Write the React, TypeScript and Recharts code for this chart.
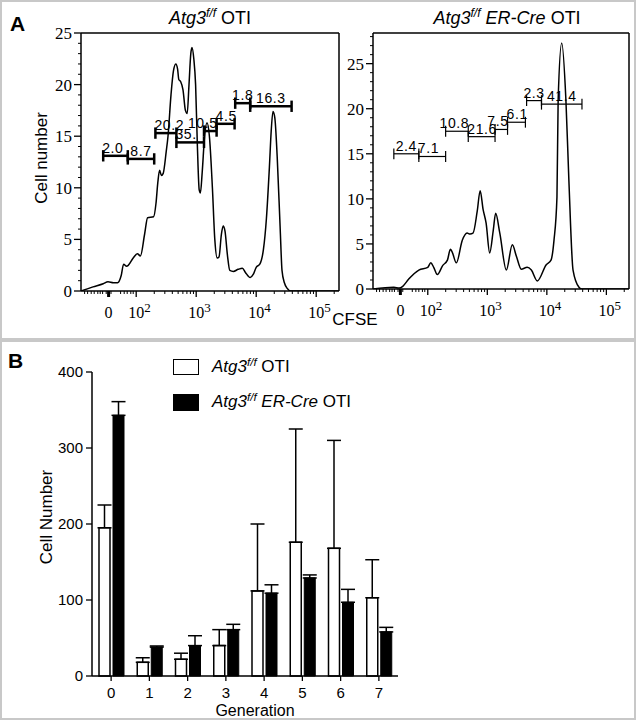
import React from "react";
import { LineChart, Line, XAxis, YAxis, ReferenceArea, ReferenceLine, BarChart, Bar, ErrorBar } from "recharts";

// Panel A: CFSE histograms. x is in display decades (2 = 10^2 ... 5 = 10^5), "0" sits near 1.54
const wtCfse = [1.08, 1.28, 1.45, 1.53, 1.62, 1.69, 1.75, 1.79, 1.84, 1.87, 1.95, 2.02, 2.07, 2.14, 2.19, 2.29, 2.33, 2.36, 2.39, 2.42, 2.45, 2.5, 2.53, 2.58, 2.62, 2.66, 2.69, 2.71, 2.74, 2.78, 2.82, 2.85, 2.88, 2.91, 2.93, 2.96, 2.99, 3.02, 3.05, 3.07, 3.1, 3.14, 3.18, 3.22, 3.27, 3.31, 3.35, 3.38, 3.42, 3.45, 3.48, 3.52, 3.56, 3.62, 3.7, 3.77, 3.82, 3.9, 3.95, 4.0, 4.06, 4.12, 4.17, 4.22, 4.25, 4.28, 4.31, 4.35, 4.4, 4.43, 4.47, 4.51, 4.58, 5.38];
const wtCount = [0, 0.4, 0.7, 0.9, 0.8, 0.8, 1.5, 2.6, 2.4, 2.5, 3.2, 3.6, 3.4, 5.5, 7.1, 7.2, 8.5, 10.5, 11.7, 11.2, 11.4, 13.5, 15, 19, 21.3, 22, 21.5, 20.5, 20.3, 19.5, 17.5, 17.2, 20, 23, 23.6, 22.5, 20, 14, 9.8, 9.5, 11.5, 15, 16.3, 15, 10, 5, 3.2, 3.3, 5.5, 6.3, 5.8, 3.5, 2.0, 1.9, 2.1, 2.2, 1.8, 1.3, 1.6, 2.3, 2.6, 4, 7, 12, 15.5, 17.4, 16.8, 13, 6, 2, 0.8, 0.3, 0, 0];

const koCfse = [1.08, 1.43, 1.52, 1.58, 1.68, 1.85, 2.0, 2.05, 2.1, 2.16, 2.25, 2.33, 2.38, 2.41, 2.48, 2.58, 2.66, 2.71, 2.76, 2.83, 2.88, 2.93, 2.98, 3.04, 3.1, 3.14, 3.21, 3.32, 3.42, 3.49, 3.57, 3.67, 3.74, 3.84, 3.99, 4.07, 4.12, 4.17, 4.19, 4.25, 4.32, 4.37, 4.44, 4.54, 4.59, 5.38];
const koCount = [0, 0.2, 0.1, 0.3, 1.1, 2.1, 2.4, 2.9, 2.4, 1.6, 2.6, 3.2, 4.4, 4.1, 2.9, 5.4, 6.2, 6.1, 6.2, 8.6, 10.9, 8.8, 7.3, 4.0, 6.5, 8.4, 6.2, 2.1, 4.9, 3.6, 2.2, 2.4, 2.1, 0.9, 2.7, 3.2, 5.4, 10.2, 21, 27.3, 21, 12.1, 2.1, 0.2, 0, 0];

// division gates (start, end, height in cell number, percent label)
const wtGateFrom = [1.45, 1.86, 2.32, 2.67, 3.13, 3.34, 3.65, 3.9];
const wtGateTo = [1.86, 2.3, 2.67, 3.13, 3.34, 3.64, 3.9, 4.59];
const wtGateLevel = [13.1, 12.8, 15.3, 14.4, 15.5, 16.2, 18.2, 17.9];
const wtGateText = ["2.0", "8.7", "20.2", "35.", "10.5", "4.5", "1.8", "16.3"];

const koGateFrom = [1.43, 1.85, 2.3, 2.68, 3.13, 3.34, 3.66, 3.91];
const koGateTo = [1.85, 2.3, 2.68, 3.13, 3.34, 3.64, 3.91, 4.59];
const koGateLevel = [15.0, 14.7, 17.5, 16.9, 17.7, 18.5, 20.9, 20.5];
const koGateText = ["2.4", "7.1", "10.8", "21.6", "7.5", "6.1", "2.3", "41.4"];

// how each gate label is aligned on its gate
const wtGateAlign = ["start", "middle", "start", "start", "end", "start", "middle", "middle"];
const koGateAlign = ["middle", "start", "end", "start", "end", "start", "middle", "middle"];

const cfseMajor = [1.54, 2, 3, 4, 5];
const cfseMajorBase = ["0", "10", "10", "10", "10"];
const cfseMajorSup = ["", "2", "3", "4", "5"];
const cfseLinearMinor = [1.14, 1.19, 1.25, 1.3, 1.36, 1.4, 1.44, 1.5, 1.58, 1.74, 1.8, 1.85, 1.91, 1.95];

// Panel B: cells per generation, mean and upper SEM
const generations = ["0", "1", "2", "3", "4", "5", "6", "7"];
const wtMean = [195, 18, 22, 40, 112, 176, 168, 103];
const wtSem = [30, 6, 8, 21, 88, 149, 142, 50];
const koMean = [343, 38, 40, 61, 109, 129, 97, 58];
const koSem = [18, 1.5, 13, 7, 11, 4, 17, 6];

const SERIF = "'Liberation Serif', 'Times New Roman', serif";
const SANS = "'Liberation Sans', Arial, sans-serif";

const logMinor: number[] = [];
[2, 3, 4].forEach(k => {
  for (let m = 2; m <= 9; m++) logMinor.push(k + Math.log10(m));
});
const cfseTicks = [...cfseLinearMinor, ...cfseMajor, ...logMinor, 5.3].sort((a, b) => a - b);

function CfseTick(props: any) {
  const { x, y, payload } = props;
  const i = cfseMajor.indexOf(payload.value);
  if (i < 0) return <line x1={x} y1={y} x2={x} y2={y + 3} stroke="#000" strokeWidth={1} />;
  return (
    <g>
      <line x1={x} y1={y} x2={x} y2={y + 6} stroke="#000" strokeWidth={i === 0 ? 3 : 1.3} />
      {cfseMajorSup[i] === "" ? (
        <text x={x} y={y + 27} textAnchor="middle" fontFamily={SERIF} fontSize={16} fill="#000">
          {cfseMajorBase[i]}
        </text>
      ) : (
        <text x={x - 8} y={y + 27} textAnchor="start" fontFamily={SERIF} fontSize={16} fill="#000">
          {cfseMajorBase[i]}
          <tspan dy={-6} fontSize={13}>{cfseMajorSup[i]}</tspan>
        </text>
      )}
    </g>
  );
}

function CountTick(props: any) {
  const { x, y, payload } = props;
  const v = payload.value;
  if (v % 5 !== 0) return <line x1={x} y1={y} x2={x - 3} y2={y} stroke="#000" strokeWidth={1} />;
  return (
    <g>
      <line x1={x} y1={y} x2={x - 7} y2={y} stroke="#000" strokeWidth={1.3} />
      <text x={x - 9} y={y} dy="0.35em" textAnchor="end" fontFamily={SERIF} fontSize={17} fill="#000">
        {v}
      </text>
    </g>
  );
}

const gateShape = (label: string, align: string, weight: number) => (p: any) => {
  const { x, y, width, height } = p;
  const mid = y + height / 2;
  const tx = align === "start" ? x - 1 : align === "end" ? x + width + 1 : x + width / 2;
  return (
    <g>
      <g stroke="#000" strokeWidth={weight}>
        <line x1={x} y1={mid} x2={x + width} y2={mid} />
        <line x1={x} y1={y} x2={x} y2={y + height} />
        <line x1={x + width} y1={y} x2={x + width} y2={y + height} />
      </g>
      <text x={tx} y={mid - 3} textAnchor={align as any} fontFamily={SANS} fontSize={14} letterSpacing={0.6} fill="#000">
        {label}
      </text>
    </g>
  );
};

interface HistProps {
  xs: number[];
  ys: number[];
  from: number[];
  to: number[];
  level: number[];
  text: string[];
  align: string[];
  yMax: number;
  width: number;
  yAxisWidth: number;
  xAxisHeight: number;
  gateWeight: number;
  gateHalf: number;
}

function Histogram({ xs, ys, from, to, level, text, align, yMax, width, yAxisWidth, xAxisHeight, gateWeight, gateHalf }: HistProps) {
  const data = xs.map((x, i) => ({ cfse: x, count: ys[i] }));
  const yTicks: number[] = [];
  for (let i = 0; i <= Math.floor(yMax); i++) yTicks.push(i);
  return (
    <LineChart width={width} height={340} data={data} margin={{ top: 33, right: 6, bottom: 0, left: 0 }}>
      <XAxis
        dataKey="cfse"
        type="number"
        domain={[1.08, 5.38]}
        allowDataOverflow
        ticks={cfseTicks}
        interval={0}
        tickSize={0}
        tickMargin={0}
        tickLine={false}
        tick={<CfseTick />}
        height={xAxisHeight}
        axisLine={{ stroke: "#000", strokeWidth: 1.5 }}
      />
      <YAxis
        type="number"
        domain={[0, yMax]}
        allowDataOverflow
        ticks={yTicks}
        interval={0}
        tickSize={0}
        tickMargin={0}
        tickLine={false}
        tick={<CountTick />}
        width={yAxisWidth}
        axisLine={{ stroke: "#000", strokeWidth: 1.5 }}
      />
      <ReferenceLine y={yMax} stroke="#000" strokeWidth={1.5} ifOverflow="visible" />
      <ReferenceLine x={5.38} stroke="#000" strokeWidth={1.5} ifOverflow="visible" />
      <Line type="monotone" dataKey="count" stroke="#000" strokeWidth={1.5} dot={false} isAnimationActive={false} />
      {from.map((f, i) => (
        <ReferenceArea
          key={i}
          x1={f}
          x2={to[i]}
          y1={level[i] - gateHalf}
          y2={level[i] + gateHalf}
          ifOverflow="visible"
          shape={gateShape(text[i], align[i], gateWeight)}
        />
      ))}
    </LineChart>
  );
}

const barData = generations.map((g, i) => ({
  gen: g,
  wt: wtMean[i],
  wtErr: [0, wtSem[i]],
  ko: koMean[i],
  koErr: [0, koSem[i]],
}));

function Title({ cre }: { cre: boolean }) {
  return (
    <span>
      <i>Atg3</i>
      <i style={{ fontSize: "0.68em", position: "relative", top: "-0.55em" }}>f/f</i>
      {cre ? <i> ER-Cre</i> : null} OTI
    </span>
  );
}

export default function App() {
  const abs = (left: number, top: number): React.CSSProperties => ({ position: "absolute", left, top });
  return (
    <div style={{ position: "absolute", left: 0, top: 0, width: 636, height: 720, background: "#fff", fontFamily: SANS, color: "#000", overflow: "hidden" }}>
      <div style={{ position: "absolute", left: 0, top: 0, width: 632, height: 336, border: "2px solid #c8c8c8" }} />
      <div style={{ position: "absolute", left: 0, top: 340, width: 632, height: 376, border: "2px solid #c8c8c8" }} />

      <div style={abs(0, 0)}>
        <Histogram xs={wtCfse} ys={wtCount} from={wtGateFrom} to={wtGateTo} level={wtGateLevel} text={wtGateText} align={wtGateAlign}
          yMax={25} width={345} yAxisWidth={81} xAxisHeight={49} gateWeight={2.5} gateHalf={0.55} />
      </div>
      <div style={abs(300, 0)}>
        <Histogram xs={koCfse} ys={koCount} from={koGateFrom} to={koGateTo} level={koGateLevel} text={koGateText} align={koGateAlign}
          yMax={28.4} width={335} yAxisWidth={73} xAxisHeight={51} gateWeight={1.2} gateHalf={0.6} />
      </div>

      <div style={{ ...abs(10, 12), fontSize: 21, fontWeight: "bold" }}>A</div>
      <div style={{ ...abs(210, 8), transform: "translateX(-50%)", fontSize: 18, whiteSpace: "nowrap" }}><Title cre={false} /></div>
      <div style={{ ...abs(507, 8), transform: "translateX(-50%)", fontSize: 18, whiteSpace: "nowrap" }}><Title cre={true} /></div>
      <div style={{ ...abs(42, 158), transform: "translate(-50%, -50%) rotate(-90deg)", fontSize: 17, whiteSpace: "nowrap" }}>Cell number</div>
      <div style={{ ...abs(355, 320), transform: "translate(-50%, -50%)", fontSize: 17 }}>CFSE</div>

      <div style={abs(0, 340)}>
        <BarChart width={420} height={380} data={barData} margin={{ top: 32, right: 22, bottom: 0, left: 0 }} barSize={11} barGap={3}>
          <XAxis
            dataKey="gen"
            tickSize={5}
            tickMargin={6}
            height={44}
            tick={{ fill: "#000", fontSize: 15, fontFamily: SANS }}
            axisLine={{ stroke: "#000", strokeWidth: 1.5 }}
            tickLine={{ stroke: "#000", strokeWidth: 1.3 }}
          />
          <YAxis
            domain={[0, 400]}
            ticks={[0, 100, 200, 300, 400]}
            interval={0}
            width={92}
            tickSize={6}
            tickMargin={3}
            tick={{ fill: "#000", fontSize: 15, fontFamily: SANS }}
            axisLine={{ stroke: "#000", strokeWidth: 1.5 }}
            tickLine={{ stroke: "#000", strokeWidth: 1.3 }}
          />
          <Bar dataKey="wt" fill="#fff" stroke="#000" strokeWidth={1.5} isAnimationActive={false}>
            <ErrorBar dataKey="wtErr" direction="y" width={7} stroke="#000" strokeWidth={1.5} isAnimationActive={false} />
          </Bar>
          <Bar dataKey="ko" fill="#000" stroke="#000" strokeWidth={1} isAnimationActive={false}>
            <ErrorBar dataKey="koErr" direction="y" width={7} stroke="#000" strokeWidth={1.5} isAnimationActive={false} />
          </Bar>
        </BarChart>
      </div>

      <div style={{ ...abs(8, 349), fontSize: 21, fontWeight: "bold" }}>B</div>
      <div style={{ ...abs(47, 517), transform: "translate(-50%, -50%) rotate(-90deg)", fontSize: 17, whiteSpace: "nowrap" }}>Cell Number</div>
      <div style={{ ...abs(255, 710), transform: "translate(-50%, -50%)", fontSize: 16, lineHeight: "15px" }}>Generation</div>

      <div style={{ ...abs(173, 359), width: 26, height: 16, boxSizing: "border-box", border: "1.5px solid #000", background: "#fff" }} />
      <div style={{ ...abs(212, 367), transform: "translateY(-50%)", fontSize: 17, whiteSpace: "nowrap" }}><Title cre={false} /></div>
      <div style={{ ...abs(173, 394), width: 26, height: 17, background: "#000" }} />
      <div style={{ ...abs(212, 402), transform: "translateY(-50%)", fontSize: 17, whiteSpace: "nowrap" }}><Title cre={true} /></div>
    </div>
  );
}
